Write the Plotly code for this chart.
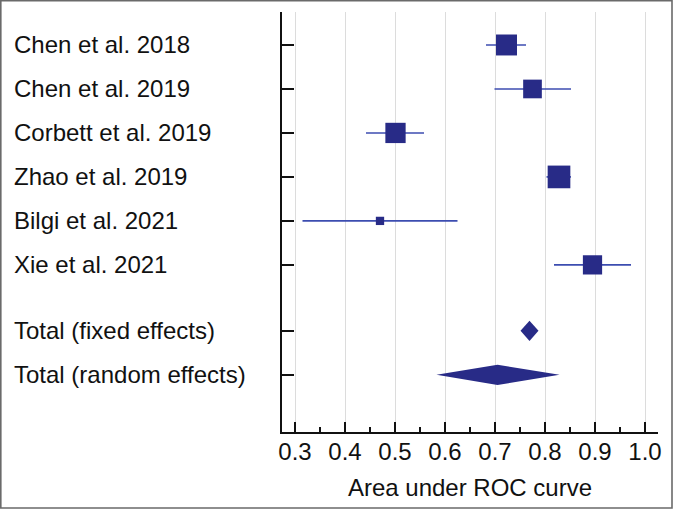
import plotly.graph_objects as go
import math

studies = ["Chen et al. 2018", "Chen et al. 2019", "Corbett et al. 2019",
           "Zhao et al. 2019", "Bilgi et al. 2021", "Xie et al. 2021"]
auc = [0.723, 0.775, 0.501, 0.828, 0.470, 0.895]
ci_low = [0.682, 0.699, 0.442, 0.803, 0.315, 0.818]
ci_high = [0.762, 0.852, 0.558, 0.852, 0.625, 0.972]
weights = [20.4, 16.2, 19.1, 23.9, 3.2, 17.2]

totals = ["Total (fixed effects)", "Total (random effects)"]
total_auc = [0.769, 0.705]
total_low = [0.751, 0.583]
total_high = [0.787, 0.829]

x_ticks = [0.3, 0.4, 0.5, 0.6, 0.7, 0.8, 0.9, 1.0]
x_tick_labels = ["0.3", "0.4", "0.5", "0.6", "0.7", "0.8", "0.9", "1.0"]

study_rows = [1, 2, 3, 4, 5, 6]
total_rows = [7.5, 8.5]

NAVY = "#282b87"
LINE = "#3c4db0"
FONT = "Liberation Sans, Arial, sans-serif"

fig = go.Figure()

sizes = [4.64 * math.sqrt(w) for w in weights]
fig.add_trace(go.Scatter(
    x=auc, y=study_rows, mode="markers",
    marker=dict(symbol="square", size=sizes, color=NAVY, opacity=1, line=dict(width=0)),
    error_x=dict(type="data", symmetric=False,
                 array=[h - a for h, a in zip(ci_high, auc)],
                 arrayminus=[a - l for a, l in zip(auc, ci_low)],
                 thickness=1.6, width=0, color=LINE),
    showlegend=False, hoverinfo="skip"))

half_h = 0.23
for est, lo, hi, row in zip(total_auc, total_low, total_high, total_rows):
    fig.add_trace(go.Scatter(
        x=[lo, est, hi, est, lo], y=[row, row - half_h, row, row + half_h, row],
        mode="lines", fill="toself", fillcolor=NAVY,
        line=dict(width=0, color=NAVY), showlegend=False, hoverinfo="skip"))

labels = studies + totals
rows = study_rows + total_rows
for lab, r in zip(labels, rows):
    fig.add_annotation(text=lab, x=(12 - 282) / 376, xref="paper", y=r, yref="y",
                       xanchor="left", yanchor="middle", showarrow=False,
                       font=dict(size=24, color="#111", family=FONT))

fig.add_shape(type="rect", xref="paper", yref="paper",
              x0=(0.8 - 282) / 376, x1=(672 - 282) / 376,
              y0=(432 - 508) / 420, y1=1 + (12 - 0.8) / 420,
              line=dict(color="#6a6a6a", width=1.6), layer="above")

fig.update_layout(
    width=673, height=509,
    margin=dict(l=282, r=15, t=12, b=77),
    paper_bgcolor="white", plot_bgcolor="white",
    font=dict(family=FONT, size=24, color="#111"),
    xaxis=dict(range=[0.274, 1.026], tickvals=x_ticks, ticktext=x_tick_labels,
               ticks="inside", ticklen=10, tickwidth=2, tickcolor="#111",
               showline=True, linewidth=2, linecolor="#111",
               showgrid=True, gridcolor="#dcdcdc", gridwidth=1, zeroline=False,
               minor=dict(dtick=0.05, tick0=0.25, ticks="inside", ticklen=5,
                          tickwidth=1.5, tickcolor="#111", showgrid=False),
               tickfont=dict(size=24, color="#111"),
               ticklabelstandoff=-3,
               title=dict(text="Area under ROC curve", font=dict(size=24, color="#111"),
                          standoff=15)),
    yaxis=dict(range=[9.8, 0.25], tickvals=rows, showticklabels=False,
               ticks="inside", ticklen=12, tickwidth=2, tickcolor="#111",
               showline=True, linewidth=2, linecolor="#111",
               showgrid=False, zeroline=False),
)

fig.write_html("out.html", config={"displayModeBar": False},
               post_script="document.body.style.margin='0';document.body.style.overflow='hidden';")
